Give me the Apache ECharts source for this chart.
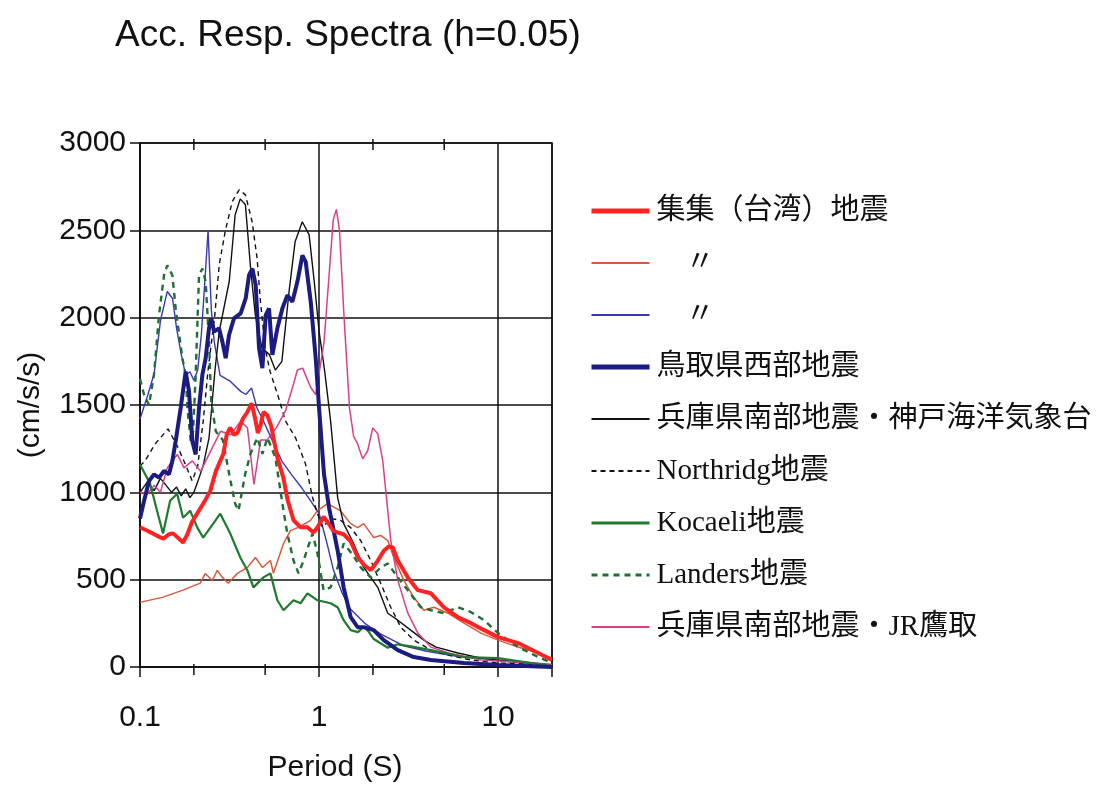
<!DOCTYPE html>
<html>
<head>
<meta charset="utf-8">
<script src="https://cdn.jsdelivr.net/npm/echarts@6/dist/echarts.min.js"></script>
<style>
html,body{margin:0;padding:0;background:#fff;}
#chart{width:1110px;height:790px;}
</style>
</head>
<body>
<div id="chart"></div>
<script>
// ---- data: [period (s), acceleration (cm/s/s)] ----
const chichiThick = [[0.1,800],[0.11,780],[0.12,760],[0.128,745],[0.135,735],[0.145,760],[0.153,765],[0.165,735],[0.174,713],[0.184,760],[0.195,830],[0.209,880],[0.23,950],[0.247,1010],[0.265,1120],[0.292,1220],[0.305,1330],[0.319,1370],[0.335,1330],[0.35,1340],[0.375,1420],[0.398,1460],[0.42,1510],[0.44,1420],[0.455,1340],[0.47,1380],[0.49,1460],[0.515,1440],[0.54,1380],[0.585,1200],[0.633,1080],[0.666,960],[0.72,840],[0.788,800],[0.86,800],[0.932,770],[0.98,800],[1.02,830],[1.06,860],[1.116,830],[1.2,780],[1.27,770],[1.372,760],[1.5,720],[1.643,630],[1.8,580],[1.944,555],[2.1,600],[2.298,665],[2.45,690],[2.581,684],[2.753,610],[3.132,513],[3.563,440],[4.214,422],[4.984,342],[5.969,285],[7.06,251],[8.35,211],[10,171],[12.94,137],[16.75,80],[20,40]];
const chichiThinRed = [[0.1,370],[0.1345,400],[0.174,440],[0.2169,480],[0.2313,535],[0.2532,495],[0.27,553],[0.2883,513],[0.311,480],[0.35,536],[0.398,570],[0.441,627],[0.483,570],[0.535,610],[0.556,536],[0.633,707],[0.692,781],[0.76,798],[0.894,838],[0.98,895],[1.116,935],[1.314,895],[1.502,821],[1.643,798],[1.776,821],[2.02,741],[2.21,753],[2.42,724],[2.615,627],[2.974,496],[3.38,399],[3.85,325],[4.38,342],[5.25,308],[6.45,251],[8.03,194],[10,154],[12.94,114],[16.75,80],[20,51]];
const chichiThinBlue = [[0.1,1420],[0.11,1550],[0.12,1680],[0.13,1980],[0.142,2150],[0.152,2110],[0.16,1940],[0.17,1790],[0.18,1670],[0.19,1690],[0.2,1640],[0.21,1700],[0.22,1900],[0.23,2200],[0.24,2500],[0.25,2050],[0.26,1860],[0.28,1670],[0.32,1635],[0.365,1578],[0.39,1560],[0.42,1597],[0.45,1483],[0.49,1407],[0.55,1293],[0.62,1179],[0.7,1103],[0.8,1026],[0.9,950],[1.0,880],[1.1,720],[1.2,560],[1.35,420],[1.5,330],[1.8,250],[2.2,190],[3,120],[4,90],[6,60],[10,40],[20,15]];
const tottori = [[0.1,850],[0.1053,950],[0.1123,1065],[0.1197,1103],[0.1277,1084],[0.1362,1122],[0.1452,1103],[0.1516,1179],[0.1582,1293],[0.1687,1483],[0.1799,1692],[0.1878,1578],[0.196,1293],[0.2046,1217],[0.2136,1483],[0.223,1673],[0.2327,1768],[0.2429,1939],[0.2504,1996],[0.2591,1920],[0.2763,1939],[0.2884,1863],[0.301,1768],[0.3142,1901],[0.335,1996],[0.365,2025],[0.3893,2110],[0.4064,2243],[0.4241,2281],[0.4428,2186],[0.4622,1825],[0.4825,1711],[0.5035,2015],[0.5256,2053],[0.5486,1787],[0.5851,1939],[0.624,2053],[0.6655,2129],[0.7097,2091],[0.7568,2205],[0.807,2357],[0.8425,2319],[0.8984,2091],[0.958,1768],[1.0,1483],[1.066,1103],[1.137,913],[1.27,667],[1.372,456],[1.502,285],[1.643,228],[1.776,228],[2.02,211],[2.298,154],[2.753,97],[3.38,57],[4.214,40],[6.45,23],[10,11],[20,0]];
const kobeJMA = [[0.1,1000],[0.11,1060],[0.12,1010],[0.13,1080],[0.14,1040],[0.15,1000],[0.16,1030],[0.17,980],[0.18,1020],[0.19,970],[0.2,1000],[0.21,1060],[0.225,1150],[0.243,1312],[0.262,1694],[0.277,1922],[0.315,2207],[0.34,2589],[0.363,2680],[0.388,2646],[0.413,2304],[0.44,2019],[0.48,1825],[0.527,1790],[0.57,1700],[0.62,1750],[0.68,2150],[0.735,2435],[0.806,2549],[0.88,2475],[0.94,2207],[1.0,1922],[1.07,1711],[1.16,1409],[1.27,970],[1.372,821],[1.56,707],[1.776,570],[2.127,456],[2.42,308],[2.753,268],[3.25,211],[3.85,154],[4.5,114],[5.97,80],[8.03,51],[12,28],[20,11]];
const northridge = [[0.1,1150],[0.1067,1180],[0.1214,1277],[0.1435,1363],[0.1633,1255],[0.1787,1163],[0.1956,1066],[0.21,1150],[0.225,1400],[0.24,1700],[0.262,2019],[0.277,2304],[0.299,2492],[0.327,2663],[0.358,2732],[0.388,2703],[0.423,2549],[0.451,2338],[0.469,2110],[0.5,1825],[0.532,1694],[0.595,1540],[0.649,1409],[0.739,1312],[0.84,1163],[0.92,970],[0.98,878],[1.046,800],[1.16,850],[1.314,840],[1.502,798],[1.708,724],[1.944,610],[2.21,479],[2.515,342],[2.862,228],[3.38,154],[4.214,97],[5.28,68],[7.06,40],[10,23],[20,11]];
const kocaeli = [[0.1,1160],[0.1138,1050],[0.1245,895],[0.1345,764],[0.1473,952],[0.1612,992],[0.174,855],[0.1906,895],[0.209,798],[0.2254,741],[0.2564,821],[0.2806,878],[0.3193,764],[0.3633,627],[0.398,553],[0.43,456],[0.489,513],[0.535,536],[0.585,382],[0.633,325],[0.72,382],[0.788,365],[0.862,422],[0.98,382],[1.16,365],[1.27,342],[1.372,268],[1.502,211],[1.65,200],[1.776,230],[1.9,200],[2.02,160],[2.42,110],[2.753,130],[3.38,115],[4.214,97],[6.45,57],[10,51],[15.3,23],[20,5]];
const landers = [[0.1,1650],[0.1053,1560],[0.1123,1500],[0.1197,1673],[0.1277,2015],[0.1362,2243],[0.142,2300],[0.1516,2243],[0.1582,2053],[0.1724,1768],[0.18,1673],[0.184,1483],[0.192,1293],[0.198,1350],[0.2046,1673],[0.2136,2243],[0.223,2281],[0.2327,2205],[0.2429,1863],[0.25,1520],[0.265,1350],[0.29,1300],[0.32,1066],[0.34,935],[0.355,895],[0.387,1106],[0.414,1220],[0.452,1312],[0.483,1220],[0.515,1312],[0.57,1200],[0.633,895],[0.665,764],[0.72,610],[0.768,536],[0.82,610],[0.92,764],[0.98,650],[1.06,439],[1.16,456],[1.27,570],[1.372,707],[1.55,640],[1.708,570],[1.944,513],[2.21,570],[2.42,593],[2.753,513],[3.132,439],[3.7,342],[4.214,325],[4.984,308],[5.969,342],[7.06,314],[8.35,268],[10,194],[12.94,114],[16.75,57],[20,23]];
const jrTakatori = [[0.1,1000],[0.11,990],[0.12,1040],[0.13,1000],[0.142,1140],[0.1616,1217],[0.1761,1140],[0.196,1180],[0.218,1120],[0.248,1236],[0.282,1350],[0.321,1330],[0.365,1407],[0.398,1370],[0.433,1046],[0.472,1300],[0.514,1300],[0.585,1380],[0.649,1466],[0.72,1620],[0.7568,1700],[0.81,1711],[0.8984,1600],[0.958,1560],[1.066,1860],[1.137,2240],[1.2,2560],[1.25,2620],[1.3,2500],[1.38,2000],[1.48,1480],[1.56,1320],[1.643,1277],[1.752,1192],[1.869,1238],[1.994,1369],[2.127,1335],[2.269,1180],[2.42,895],[2.515,724],[2.753,496],[3.132,308],[3.563,194],[4.214,114],[5.28,80],[8.03,40],[15.3,23],[20,11]];

const xTickLabels = [0.1, 1, 10];
const xMinorTicks = [0.2, 0.5, 2, 5];
const seriesNames = ['集集（台湾）地震', '集集（台湾）地震 2', '集集（台湾）地震 3', '鳥取県西部地震', '兵庫県南部地震・神戸海洋気象台', 'Northridg地震', 'Kocaeli地震', 'Landers地震', '兵庫県南部地震・JR鷹取'];
const legendText = {'集集（台湾）地震 2': '\u3000〃', '集集（台湾）地震 3': '\u3000〃'};
const legendWidths = [5, 2, 2, 5, 2, 1.8, 3, 3, 2];

const chart = echarts.init(document.getElementById('chart'), null, {renderer: 'canvas'});
const sans = "'Liberation Sans', Arial, sans-serif";
const serif = "'Liberation Serif', 'Noto Sans CJK JP', serif";

function line(name, data, color, width, type, z) {
  return {
    name: name, type: 'line', data: data, showSymbol: false, symbol: 'none',
    smooth: false, z: z,
    lineStyle: {color: color, width: width, type: type},
    itemStyle: {color: color},
    emphasis: {disabled: true}, animation: false
  };
}

const option = {
  backgroundColor: '#fff',
  animation: false,
  title: {
    text: 'Acc. Resp. Spectra (h=0.05)', left: 110, top: 12,
    textStyle: {fontSize: 37, fontWeight: 'normal', fontFamily: sans, color: '#111'}
  },
  legend: {
    data: seriesNames.map((n, i) => ({name: n, lineStyle: {width: legendWidths[i]}})),
    orient: 'vertical', left: 584, top: 190,
    itemWidth: 58, itemHeight: 14, itemGap: 20,
    itemStyle: {opacity: 0, borderWidth: 0},
    lineStyle: {width: 'inherit'},
    formatter: n => legendText[n] || n,
    textStyle: {fontSize: 29, lineHeight: 32, fontFamily: serif, color: '#111', padding: [0, 0, 0, 2]},
    selectedMode: false
  },
  grid: {left: 140, right: 558, top: 143, bottom: 123, show: true, borderColor: '#111', borderWidth: 1.5},
  xAxis: [{
    type: 'log', logBase: 10, min: 0.1, max: 20,
    name: 'Period (S)', nameLocation: 'middle', nameGap: 86,
    nameTextStyle: {fontSize: 30, fontFamily: sans, color: '#111', padding: [0, 22, 0, 0]},
    axisLine: {lineStyle: {color: '#111', width: 1.5}},
    axisTick: {show: true, length: 10, lineStyle: {color: '#111', width: 1.5}},
    axisLabel: {
      fontSize: 30, fontFamily: sans, color: '#111', margin: 36,
      formatter: v => { const r = +(+v).toPrecision(3); return xTickLabels.indexOf(r) >= 0 ? String(r) : ''; }
    },
    splitLine: {show: true, lineStyle: {color: '#111', width: 1.5}},
    minorTick: {show: false}
  }],
  yAxis: [{
    type: 'value', min: 0, max: 3000, interval: 500,
    name: '(cm/s/s)', nameLocation: 'middle', nameRotate: 90, nameGap: 94,
    nameTextStyle: {fontSize: 30, fontFamily: sans, color: '#111'},
    axisLine: {show: true, lineStyle: {color: '#111', width: 1.5}},
    axisTick: {show: true, length: 10, lineStyle: {color: '#111', width: 1.5}},
    axisLabel: {fontSize: 30, fontFamily: sans, color: '#111', margin: 14, formatter: v => String(v)},
    splitLine: {show: true, lineStyle: {color: '#111', width: 1.5}}
  }],
  series: [
    line(seriesNames[1], chichiThinRed, '#d45a3c', 1.5, 'solid', 3),
    line(seriesNames[2], chichiThinBlue, '#3a3ab0', 1.4, 'solid', 3),
    line(seriesNames[4], kobeJMA, '#111111', 1.4, 'solid', 3),
    line(seriesNames[5], northridge, '#111111', 1.4, [5, 4], 3),
    line(seriesNames[8], jrTakatori, '#d8408a', 1.5, 'solid', 3),
    line(seriesNames[6], kocaeli, '#1e7a2c', 2.2, 'solid', 4),
    line(seriesNames[7], landers, '#1f6e33', 2.4, [6, 5], 4),
    line(seriesNames[3], tottori, '#1b1b80', 4, 'solid', 5),
    line(seriesNames[0], chichiThick, '#ff2222', 4, 'solid', 6),
    {
      name: 'minor ticks', type: 'custom', silent: true, z: 10, clip: false,
      data: xMinorTicks.map(v => [v, 0]),
      encode: {x: 0, y: 1},
      renderItem: function (params, api) {
        const v = api.value(0);
        const b = api.coord([v, 0]);
        const t = api.coord([v, 3000]);
        const st = {stroke: '#111', lineWidth: 1.5};
        return {type: 'group', children: [
          {type: 'line', shape: {x1: b[0], y1: b[1] - 3, x2: b[0], y2: b[1] + 8}, style: st},
          {type: 'line', shape: {x1: t[0], y1: t[1] - 4, x2: t[0], y2: t[1] + 7}, style: st}
        ]};
      }
    }
  ]
};
chart.setOption(option);
</script>
</body>
</html>
